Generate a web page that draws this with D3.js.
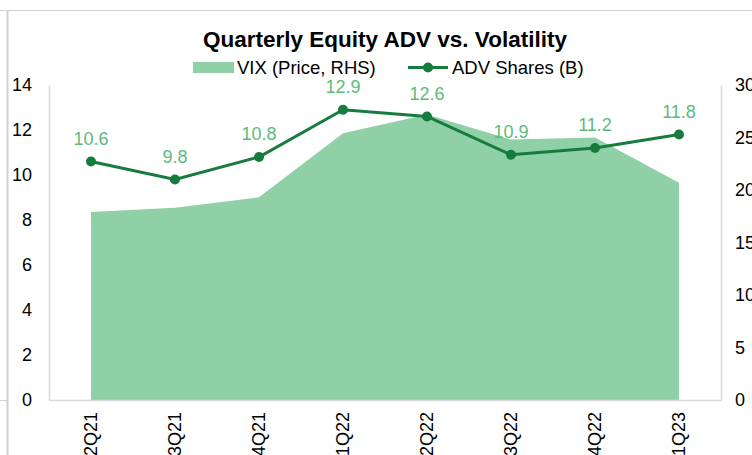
<!DOCTYPE html>
<html><head><meta charset="utf-8">
<script src="https://cdn.jsdelivr.net/npm/d3@7"></script>
<style>body{margin:0;background:#fff}svg{display:block;font-family:"Liberation Sans",Arial,sans-serif}</style>
</head><body>
<svg id="c" width="752" height="455"></svg>
<script>
const categories = ["2Q21","3Q21","4Q21","1Q22","2Q22","3Q22","4Q22","1Q23"];
const advShares = [10.6, 9.8, 10.8, 12.9, 12.6, 10.9, 11.2, 11.8];
const vixPrice = [17.9, 18.3, 19.3, 25.4, 27.2, 24.8, 25.0, 20.7];
const leftTicks = [0,2,4,6,8,10,12,14];
const rightTicks = [0,5,10,15,20,25,30];

const svg = d3.select("#c");
const M = {l:49, r:721, t:85, b:400};
const x = d3.scaleBand().domain(categories).range([M.l, M.r]);
const cx = d => x(d) + x.bandwidth()/2;
const yL = d3.scaleLinear().domain([0,14]).range([M.b, M.t]);
const yR = d3.scaleLinear().domain([0,30]).range([M.b, M.t]);

const areaCol = "#8fd0a6", lineCol = "#167c3e", lblCol = "#5cbb7b", axCol = "#d9d9d9";

// outer frame
svg.append("line").attr("x1",0).attr("x2",752).attr("y1",10.5).attr("y2",10.5).attr("stroke","#d0d0d0");
svg.append("line").attr("x1",7.5).attr("x2",7.5).attr("y1",10).attr("y2",455).attr("stroke","#d0d0d0").attr("stroke-width",2);
svg.append("line").attr("x1",0).attr("x2",7).attr("y1",400.5).attr("y2",400.5).attr("stroke","#d0d0d0");

// area
svg.append("path").datum(categories.map((c,i)=>[c,vixPrice[i]]))
  .attr("fill", areaCol)
  .attr("d", d3.area().x(d=>cx(d[0])).y0(yR(0)).y1(d=>yR(d[1])));

// axes
const gL = svg.append("g").attr("transform",`translate(${M.l},0)`)
  .call(d3.axisLeft(yL).tickValues(leftTicks).tickSize(0).tickSizeOuter(0).tickPadding(17));
const gR = svg.append("g").attr("transform",`translate(${M.r},0)`)
  .call(d3.axisRight(yR).tickValues(rightTicks).tickSize(0).tickSizeOuter(0).tickPadding(14));
const gB = svg.append("g").attr("transform",`translate(0,${M.b})`)
  .call(d3.axisBottom(x).tickSize(0).tickSizeOuter(0));
[gL,gR,gB].forEach(g=>{
  g.select(".domain").attr("stroke",axCol).attr("stroke-width",1.5);
  g.selectAll("text").attr("font-size",18).attr("fill","#000").attr("font-family","Liberation Sans, Arial, sans-serif");
});
gB.selectAll("text").attr("transform","rotate(-90)").attr("text-anchor","end")
  .attr("x",-12).attr("y",0).attr("dy","0.35em");

// line
svg.append("path").datum(advShares)
  .attr("fill","none").attr("stroke",lineCol).attr("stroke-width",3)
  .attr("d", d3.line().x((d,i)=>cx(categories[i])).y(d=>yL(d)));
svg.selectAll(".dot").data(advShares).join("circle")
  .attr("cx",(d,i)=>cx(categories[i])).attr("cy",d=>yL(d)).attr("r",5).attr("fill",lineCol);
svg.selectAll(".lbl").data(advShares).join("text")
  .attr("x",(d,i)=>cx(categories[i])).attr("y",d=>yL(d)-17)
  .attr("text-anchor","middle").attr("font-size",18).attr("fill",lblCol)
  .text(d=>d.toFixed(1));

// title
svg.append("text").attr("x",385).attr("y",47).attr("text-anchor","middle")
  .attr("font-size",22.5).attr("font-weight","bold").attr("fill","#000")
  .text("Quarterly Equity ADV vs. Volatility");

// legend
svg.append("rect").attr("x",193).attr("y",62).attr("width",41).attr("height",11).attr("fill",areaCol);
svg.append("text").attr("x",237).attr("y",74).attr("font-size",18.5).text("VIX (Price, RHS)");
svg.append("line").attr("x1",408).attr("x2",448).attr("y1",67.5).attr("y2",67.5).attr("stroke",lineCol).attr("stroke-width",3);
svg.append("circle").attr("cx",428).attr("cy",67.5).attr("r",5).attr("fill",lineCol);
svg.append("text").attr("x",452).attr("y",74).attr("font-size",18.5).text("ADV Shares (B)");
</script>
</body></html>
